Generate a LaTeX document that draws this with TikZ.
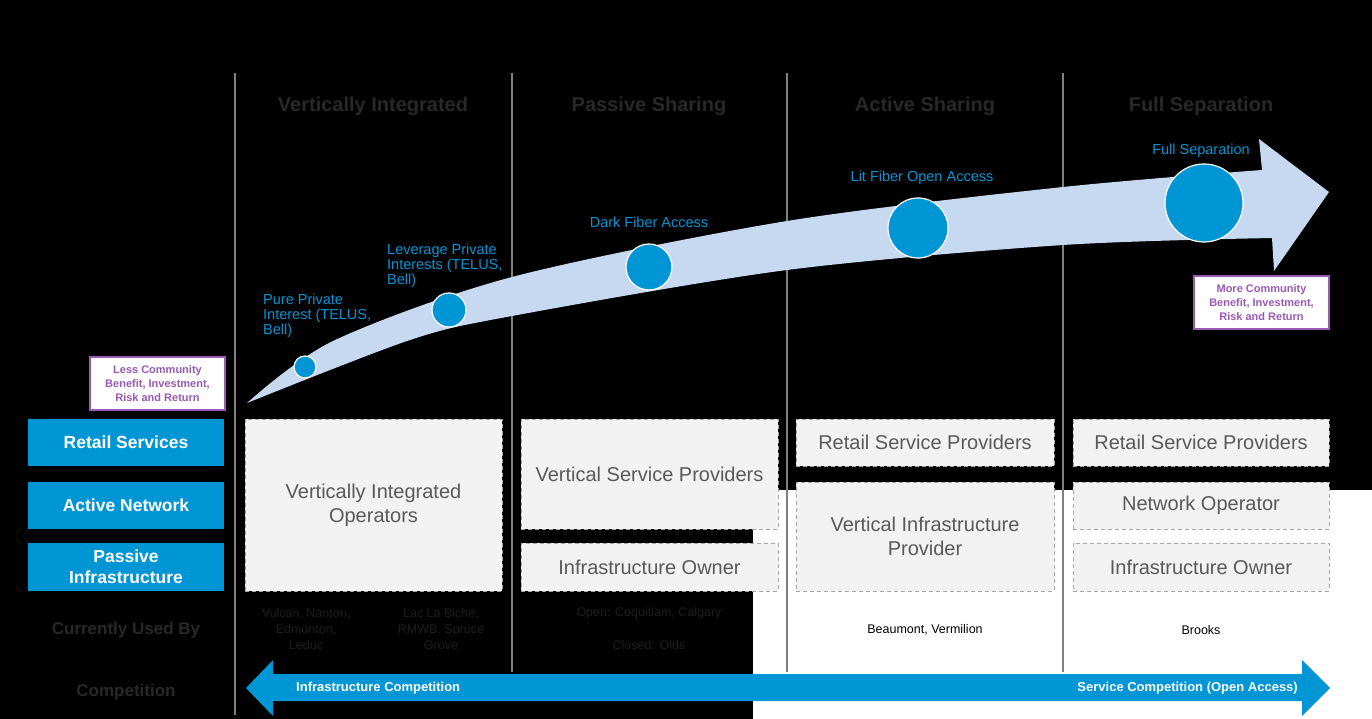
\documentclass[tikz,border=0pt]{standalone}
\usepackage{fontspec}
\setmainfont{Liberation Sans}
\usepackage{xcolor}
\usepackage{tikz}
\usetikzlibrary{
	calc,
	positioning
}
\definecolor{OceanBlue}{RGB}{0,150,214}
\definecolor{PaleBlue}{RGB}{198,217,241}
\definecolor{ShadowGray}{RGB}{40,40,40}
\definecolor{DimGray}{RGB}{30,30,30}
\definecolor{BoxGray}{RGB}{242,242,242}
\definecolor{DashGray}{RGB}{166,166,166}
\definecolor{TextGray}{RGB}{89,89,89}
\definecolor{RuleGray}{RGB}{128,128,128}
\definecolor{PlumPurple}{RGB}{155,89,182}

\begin{document}
\begin{tikzpicture}[x=1pt, y=-1pt,
	phase/.style={text=ShadowGray, font=\fontsize{20}{24}\selectfont\bfseries},
	layer/.style={fill=OceanBlue, text=white, font=\fontsize{17.5}{21}\selectfont\bfseries, align=center, inner sep=0pt, minimum width=196pt},
	role/.style={fill=BoxGray, draw=DashGray, dash pattern=on 4pt off 3pt, line width=0.9pt, text=TextGray, font=\fontsize{20}{24}\selectfont, align=center, inner sep=0pt},
	milestone/.style={circle, fill=OceanBlue, draw=white, line width=1.2pt, inner sep=0pt},
	stage/.style={text=OceanBlue, font=\fontsize{14.5}{15}\selectfont, align=left, inner sep=0pt},
	note/.style={draw=PlumPurple, line width=1.3pt, fill=white, text=PlumPurple, font=\fontsize{11}{14}\selectfont\bfseries, align=center, minimum width=135pt, minimum height=53pt, inner sep=0pt},
	place/.style={font=\fontsize{12.5}{16}\selectfont, align=center, inner sep=0pt},
	flow/.style={text=white, font=\fontsize{13}{15}\selectfont\bfseries, inner sep=0pt}]
	\useasboundingbox (0,0) rectangle (1372,719);
	\fill[black] (0,0) rectangle (1372,719);
	\fill[white] (753,490) rectangle (1372,719);
	\draw[RuleGray, line width=1.6pt] (235,73) -- (235,715);
	\draw[RuleGray, line width=1.6pt] (512,73) -- (512,672);
	\draw[RuleGray, line width=1.6pt] (787,73) -- (787,672);
	\draw[RuleGray, line width=1.6pt] (1063,73) -- (1063,672);
	\node[phase] (hvert) at (373,106) {Vertically Integrated};
	\node[phase] (hpass) at (649,106) {Passive Sharing};
	\node[phase] (hact) at (925,106) {Active Sharing};
	\node[phase] (hfull) at (1201,106) {Full Separation};
	\fill[PaleBlue] plot[smooth] coordinates {(247,403) (333,341) (512,277) (787,221) (1063,187) (1262,170)}
		-- (1259,139) -- (1329,192) -- (1274,271) -- (1272,238)
		-- plot[smooth] coordinates {(1272,238) (1063,245) (787,270) (512,316) (410,340) (247,403)} -- cycle;
	\node[milestone, minimum size=22pt] (pure) at (305,367) {};
	\node[milestone, minimum size=34pt] (lever) at (449,310) {};
	\node[milestone, minimum size=46pt] (dark) at (649,267) {};
	\node[milestone, minimum size=60pt] (lit) at (918,228) {};
	\node[milestone, minimum size=78pt] (sep) at (1204,203) {};
	\node[stage, anchor=west] (lpure) at (263,316) {Pure Private\\Interest (TELUS,\\Bell)};
	\node[stage, anchor=west] (llever) at (387,266) {Leverage Private\\Interests (TELUS,\\Bell)};
	\node[stage] (ldark) at (649,222) {Dark Fiber Access};
	\node[stage] (llit) at (922,178) {Lit Fiber Open Access};
	\node[stage] (lsep) at (1201,151) {Full Separation};
	\node[note] (less) at (157.5,383.5) {Less Community\\Benefit, Investment,\\Risk and Return};
	\node[note] (more) at (1261.5,302.5) {More Community\\Benefit, Investment,\\Risk and Return};
	\node[layer, minimum height=47pt] (retail) at (126,442.5) {Retail Services};
	\node[layer, minimum height=47pt] (active) at (126,505.5) {Active Network};
	\node[layer, minimum height=48pt] (passive) at (126,567) {Passive\\Infrastructure};
	\node[phase, font=\fontsize{17}{20}\selectfont\bfseries] (used) at (126,630) {Currently Used By};
	\node[phase, font=\fontsize{17}{20}\selectfont\bfseries] (comp) at (126,692) {Competition};
	\node[role, minimum width=257pt, minimum height=172pt] (vio) at (373.5,505) {Vertically Integrated\\Operators};
	\node[role, minimum width=257pt, minimum height=110pt] (vsp) at (649.5,474) {Vertical Service Providers};
	\node[role, minimum width=257pt, minimum height=48pt] (ownA) at (649.5,567) {Infrastructure Owner};
	\node[role, minimum width=258pt, minimum height=47pt] (rspA) at (925,442.5) {Retail Service Providers};
	\node[role, minimum width=258pt, minimum height=109pt] (vip) at (925,536.5) {Vertical Infrastructure\\Provider};
	\node[role, minimum width=256pt, minimum height=47pt] (rspB) at (1201,442.5) {Retail Service Providers};
	\node[role, minimum width=256pt, minimum height=47pt] (netop) at (1201,505.5) {Network Operator};
	\node[role, minimum width=256pt, minimum height=48pt] (ownB) at (1201,567) {Infrastructure Owner};
	\node[place, text=DimGray] (vulcan) at (306,629) {Vulcan, Nanton,\\Edmonton,\\Leduc};
	\node[place, text=DimGray] (lac) at (441,629) {Lac La Biche,\\RMWB, Spruce\\Grove};
	\node[place, text=DimGray] (open) at (649,613) {Open: Coquitlam, Calgary};
	\node[place, text=DimGray] (closed) at (649,645) {Closed: Olds};
	\node[place] (beau) at (925,630) {Beaumont, Vermilion};
	\node[place] (brooks) at (1201,630) {Brooks};
	\fill[OceanBlue] (246,688) -- (273,660) -- (273,674) -- (1302,674) -- (1302,660) -- (1330,688)
		-- (1302,716) -- (1302,701) -- (273,701) -- (273,716) -- cycle;
	\node[flow, anchor=west] (infra) at (296,688) {Infrastructure Competition};
	\node[flow, anchor=east] (serv) at (1298,688) {Service Competition (Open Access)};
\end{tikzpicture}
\end{document}
